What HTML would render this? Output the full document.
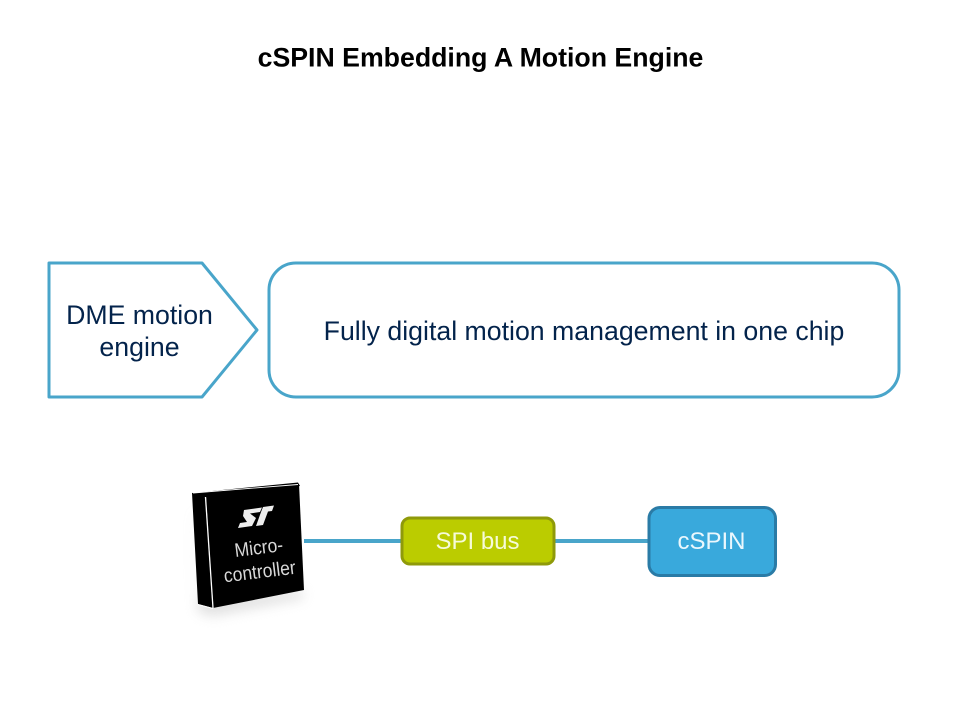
<!DOCTYPE html>
<html>
<head>
<meta charset="utf-8">
<style>
html,body{margin:0;padding:0;background:#fff;}
svg{display:block;}
text{font-family:"Liberation Sans",sans-serif;}
</style>
</head>
<body>
<svg width="960" height="720" viewBox="0 0 960 720" xmlns="http://www.w3.org/2000/svg">
<defs>
<filter id="blur" x="-30%" y="-30%" width="160%" height="160%"><feGaussianBlur stdDeviation="6"/></filter>
</defs>
<rect width="960" height="720" fill="#fff"/>
<text x="480.500" y="66.500" font-size="26.700" font-weight="bold" text-anchor="middle" fill="#000">cSPIN Embedding A Motion Engine</text>

<polygon points="49,263 202,263 257,330 202,397 49,397" fill="#fff" stroke="#49a5ca" stroke-width="3" stroke-linejoin="round"/>
<text x="139.500" y="324" font-size="26.700" text-anchor="middle" fill="#03234b">DME motion</text>
<text x="139.500" y="356" font-size="26.700" text-anchor="middle" fill="#03234b">engine</text>

<rect x="269" y="263" width="630" height="134" rx="27" ry="27" fill="#fff" stroke="#49a5ca" stroke-width="3"/>
<text x="584" y="340" font-size="26.700" text-anchor="middle" fill="#03234b">Fully digital motion management in one chip</text>

<line x1="304" y1="541" x2="650" y2="541" stroke="#49a5ca" stroke-width="4"/>

<rect x="402" y="518" width="152" height="46" rx="8" ry="8" fill="#bbcc00" stroke="#8f9a0a" stroke-width="3"/>
<text x="477.500" y="549" font-size="24" text-anchor="middle" fill="#f6fbd8">SPI bus</text>

<rect x="649" y="507.500" width="126.500" height="68" rx="11" ry="11" fill="#39a9dc" stroke="#2a7ba6" stroke-width="3"/>
<text x="711.500" y="549" font-size="24" text-anchor="middle" fill="#eaf7fd">cSPIN</text>

<polygon points="192,500 198,612 213,616 304,598 302,590 200,600" fill="#bbb" opacity="0.45" filter="url(#blur)"/>
<polygon points="192,493 298,482.500 300,486 206,498 213,608 198,604" fill="#000"/>
<polygon points="206,497 299,484 304,590 213,608" fill="#000"/>
<line x1="193" y1="493" x2="298" y2="484.500" stroke="#fff" stroke-width="0.900"/>
<line x1="205.500" y1="497" x2="213" y2="608" stroke="#fff" stroke-width="1.300"/>
<line x1="198" y1="604.500" x2="213" y2="608.500" stroke="#fff" stroke-width="1"/>

<g fill="#eee">
<polygon points="244,510 262,507.500 260,512 250,513.500 256,518 252,526 238,528 240,523 247,522 243,516"/>
<polygon points="263,507 274,505.500 272,511 268,511.500 263,525 256,526 261,512 261,512"/>
</g>
<text transform="translate(259.500,554) rotate(-7) scale(0.9,1)" font-size="19.500" text-anchor="middle" fill="#d8d8d8">Micro-</text>
<text transform="translate(260.500,578) rotate(-7) scale(0.9,1)" font-size="19.500" text-anchor="middle" fill="#d8d8d8">controller</text>
</svg>
</body>
</html>
